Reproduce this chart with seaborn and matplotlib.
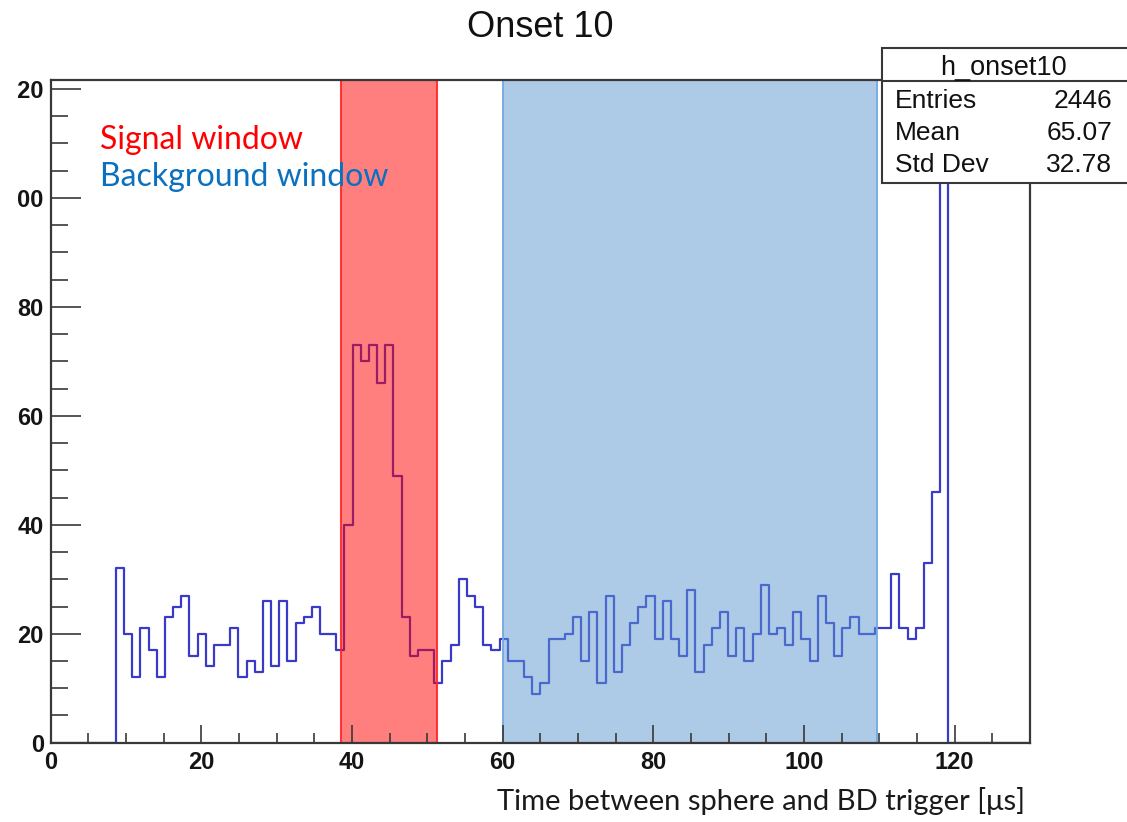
import numpy as np
import pandas as pd
import matplotlib
matplotlib.use("Agg")
import matplotlib.pyplot as plt
from matplotlib.patches import Rectangle
from matplotlib.lines import Line2D
from matplotlib.ticker import MultipleLocator
from matplotlib.transforms import Bbox, TransformedBbox
import seaborn as sns

# Histogram h_onset10: 120 bins between 0 and 130 us
bin_lo, bin_hi, n_bins = 0.0, 130.0, 120
counts = [
    0, 0, 0, 0, 0, 0, 0, 0, 32, 20,
    12, 21, 17, 12, 23, 25, 27, 16, 20, 14,
    18, 18, 21, 12, 15, 13, 26, 14, 26, 15,
    22, 23, 25, 20, 20, 17, 40, 73, 70, 73,
    66, 73, 49, 23, 16, 17, 17, 11, 15, 18,
    30, 27, 25, 18, 17, 19, 15, 15, 12, 9,
    11, 19, 19, 20, 23, 15, 24, 11, 27, 13,
    18, 22, 25, 27, 19, 26, 19, 16, 28, 13,
    18, 21, 24, 16, 21, 15, 20, 29, 20, 21,
    18, 24, 19, 15, 27, 22, 16, 21, 23, 20,
    20, 21, 21, 31, 21, 19, 21, 33, 46, 116,
    0, 0, 0, 0, 0, 0, 0, 0, 0, 0,
]

# Time windows
signal_window = (38.55, 51.3)
background_window = (60.0, 109.7)

# Statistics box
hist_name = "h_onset10"
stat_names = ["Entries", "Mean", "Std Dev"]
stat_values = ["2446", "65.07", "32.78"]

title = "Onset 10"
x_label = "Time between sphere and BD trigger [\u03bcs]"
y_max = 121.65

sns.set_style("white")
plt.rcParams["font.family"] = ["Liberation Sans", "DejaVu Sans"]

W, H = 1127, 822
fig = plt.figure(figsize=(W / 100, H / 100), dpi=100)

def fx(px):
    return px / W

def fy(py):
    return 1 - py / H

left, right, top, bottom = 50.7, 1030.0, 80.0, 742.7
ax = fig.add_axes([fx(left), fy(bottom), fx(right) - fx(left), (bottom - top) / H])

edges = np.linspace(bin_lo, bin_hi, n_bins + 1)
centers = 0.5 * (edges[:-1] + edges[1:])
df = pd.DataFrame({"time": centers, "counts": counts})

line_color = "#3a3ac8"
sns.histplot(data=df, x="time", weights="counts", bins=n_bins,
             binrange=(bin_lo, bin_hi), element="step", fill=False,
             color=line_color, linewidth=1.6, ax=ax, zorder=2)

# Shaded windows drawn over the histogram
ax.axvspan(*signal_window, facecolor=(1.0, 0.0, 0.0, 0.5),
           edgecolor=(1.0, 0.15, 0.15, 0.9), linewidth=1.5, zorder=3)
ax.axvspan(*background_window, facecolor=(0.36, 0.59, 0.82, 0.5),
           edgecolor=(0.45, 0.66, 0.88, 1.0), linewidth=1.3, zorder=3)

ax.set_xlim(bin_lo, bin_hi)
ax.set_ylim(0, y_max)
ax.set_xlabel("")
ax.set_ylabel("")

frame_color = "#383838"
for side, sp in ax.spines.items():
    sp.set_visible(True)
    sp.set_color(frame_color)
    sp.set_linewidth(1.6)
    sp.set_zorder(5)

ax.xaxis.set_major_locator(MultipleLocator(20))
ax.xaxis.set_minor_locator(MultipleLocator(5))
ax.yaxis.set_major_locator(MultipleLocator(20))
ax.yaxis.set_minor_locator(MultipleLocator(5))
ax.tick_params(axis="x", which="major", direction="in", length=13, width=1.2,
               color=frame_color, pad=6, labelsize=17, labelcolor="#151515",
               top=False, bottom=True)
ax.tick_params(axis="x", which="minor", direction="in", length=7.2, width=1.2,
               color=frame_color, top=False, bottom=True)
ax.tick_params(axis="y", which="major", direction="in", length=21.6, width=1.2,
               color=frame_color, pad=5, labelsize=17, labelcolor="#151515",
               left=True, right=False)
ax.tick_params(axis="y", which="minor", direction="in", length=12.2, width=1.2,
               color=frame_color, left=True, right=False)
ax.xaxis.set_zorder(6)
ax.yaxis.set_zorder(6)
for lab in ax.get_xticklabels() + ax.get_yticklabels():
    lab.set_fontweight("bold")

# The page edge cuts off the leading digit of the tallest y labels
clip = TransformedBbox(Bbox([[17.5 / W, 0], [1, 1]]), fig.transFigure)
for lab in ax.get_yticklabels():
    lab.set_clip_box(clip)
    lab.set_clip_on(True)

# Title and axis title
fig.text(fx(540), fy(37), title, ha="center", va="baseline", fontsize=26,
         color="#111111")
fig.text(fx(1025), fy(810), x_label, ha="right", va="baseline", fontsize=21,
         family=["Lato", "DejaVu Sans"], color="#1a1a1a")

# Window labels
fig.text(fx(100), fy(149), "Signal window", ha="left", va="baseline",
         fontsize=23, family=["Lato", "DejaVu Sans"], color="#ff0000")
fig.text(fx(100), fy(186), "Background window", ha="left", va="baseline",
         fontsize=23, family=["Lato", "DejaVu Sans"], color="#0a70c0")

# Statistics box
box = Rectangle((fx(881.7), fy(183.3)), fx(1140) - fx(881.7),
                (183.3 - 48.3) / H, transform=fig.transFigure,
                facecolor="white", edgecolor=frame_color, linewidth=1.5,
                zorder=10)
fig.add_artist(box)
fig.add_artist(Line2D([fx(881.7), fx(1140)], [fy(80.7), fy(80.7)],
                      transform=fig.transFigure, color=frame_color,
                      linewidth=1.5, zorder=11))
fig.text(fx(1003), fy(75), hist_name, ha="center", va="baseline",
         fontsize=19.5, color="#111111", zorder=12)
for name, val, base in zip(stat_names, stat_values, [108.3, 140.0, 171.7]):
    fig.text(fx(895), fy(base), name, ha="left", va="baseline",
             fontsize=19, color="#111111", zorder=12)
    fig.text(fx(1112), fy(base), val, ha="right", va="baseline",
             fontsize=19, color="#111111", zorder=12)

fig.savefig("out.png", dpi=100)
